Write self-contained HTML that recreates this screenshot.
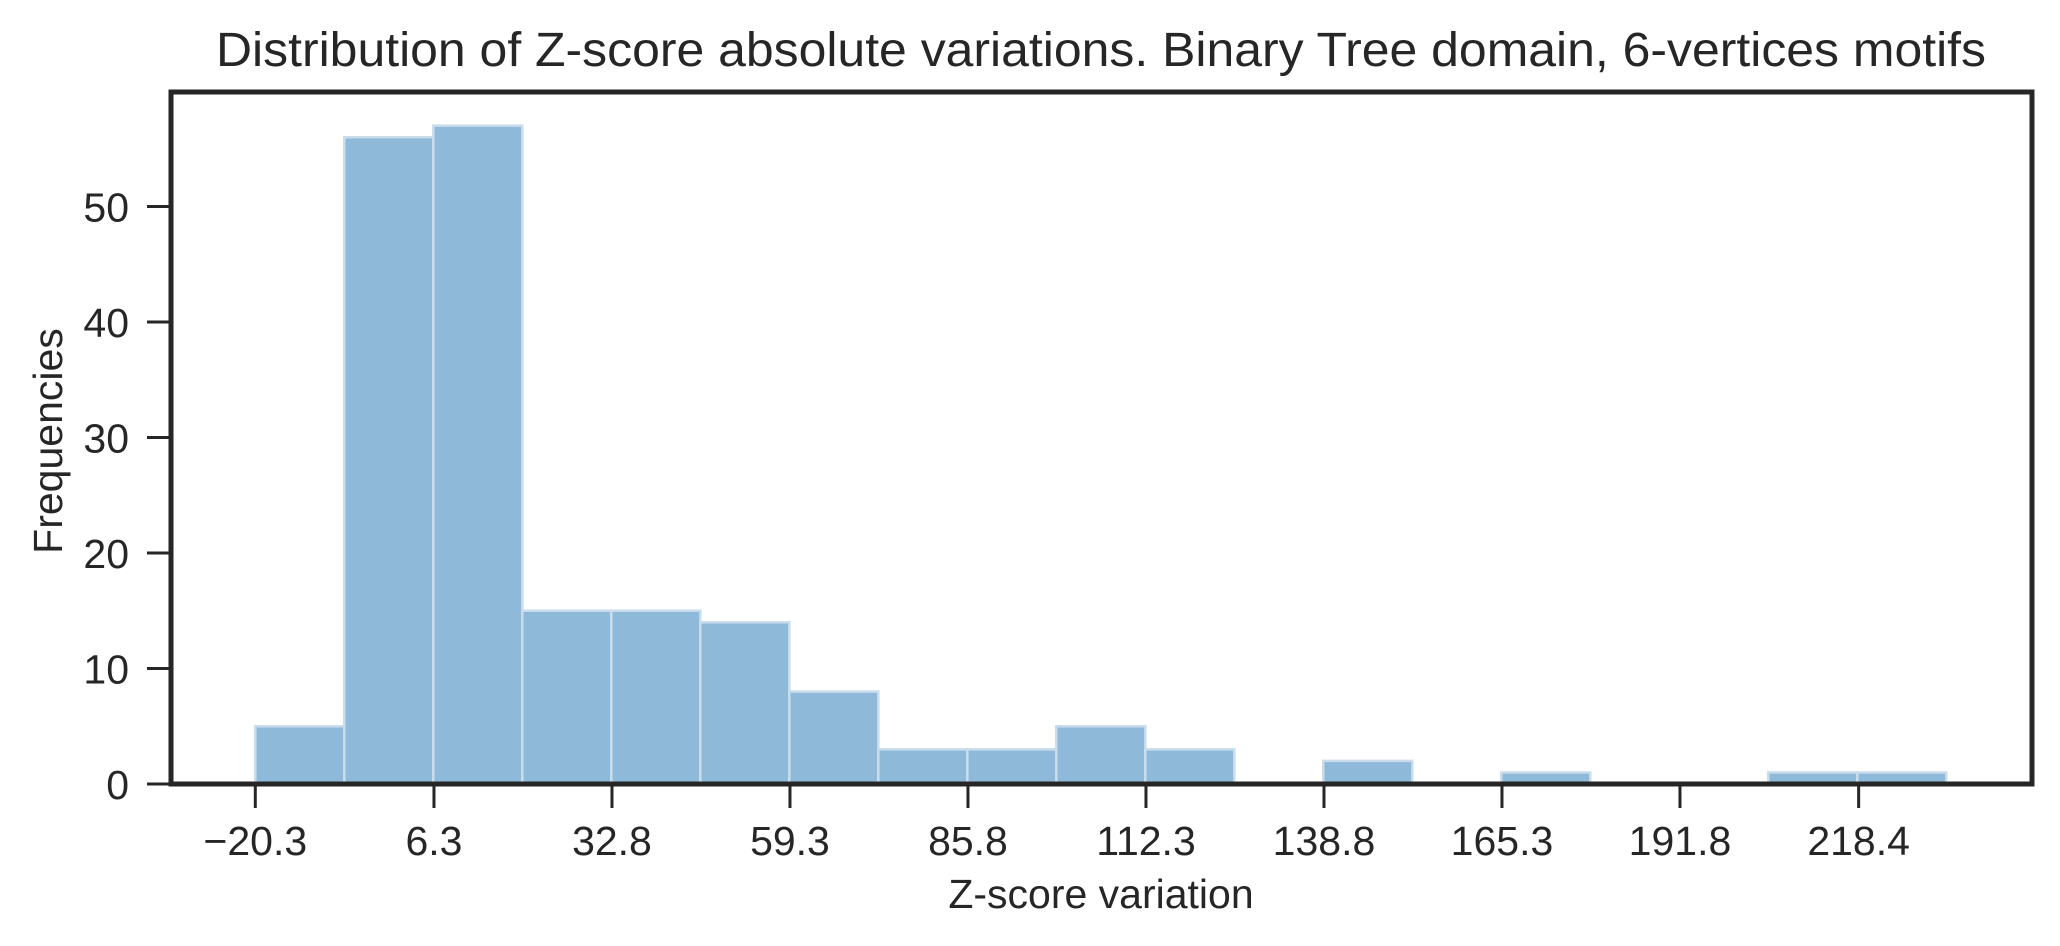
<!DOCTYPE html>
<html><head><meta charset="utf-8"><style>
html,body{margin:0;padding:0;background:#fff;}
svg{display:block;font-family:"Liberation Sans",Arial,sans-serif;fill:#262626;}
</style></head><body>
<svg id="chart" width="2060" height="946" viewBox="0 0 2060 946" xmlns="http://www.w3.org/2000/svg">
<text x="1101" y="66" font-size="48" text-anchor="middle" textLength="1770" lengthAdjust="spacingAndGlyphs">Distribution of Z-score absolute variations. Binary Tree domain, 6-vertices motifs</text>
<g id="bars"></g>
<g id="xticks"></g>
<g id="yticks"></g>
<rect x="171" y="92" width="1861" height="692" fill="none" stroke="#262626" stroke-width="5"/>
<text x="1101" y="908" font-size="41" text-anchor="middle">Z-score variation</text>
<text transform="translate(62,441) rotate(-90)" font-size="41" text-anchor="middle">Frequencies</text>
</svg>
<script>
const binStart = -20.3;
const binWidth = 13.25;
const counts = [5, 56, 57, 15, 15, 14, 8, 3, 3, 5, 3, 0, 2, 0, 1, 0, 0, 1, 1];
const xTickValues = [-20.3, 6.3, 32.8, 59.3, 85.8, 112.3, 138.8, 165.3, 191.8, 218.4];
const xTickLabels = ["\u221220.3", "6.3", "32.8", "59.3", "85.8", "112.3", "138.8", "165.3", "191.8", "218.4"];
const yTickValues = [0, 10, 20, 30, 40, 50];

const NS = "http://www.w3.org/2000/svg";
function xScale(v){ return 255.3 + (v - (-20.3)) * (178 / 26.5); }
function yScale(v){ return 784 - v * 11.55; }

const barsG = document.getElementById('bars');
counts.forEach((c, i) => {
  if (c <= 0) return;
  const x0 = xScale(binStart + i * binWidth), x1 = xScale(binStart + (i + 1) * binWidth);
  const r = document.createElementNS(NS, 'rect');
  
  
  r.setAttribute('x', x0);
  r.setAttribute('y', yScale(c));
  r.setAttribute('width', x1 - x0);
  r.setAttribute('height', yScale(0) - yScale(c));
  r.setAttribute('fill', '#8fb9d9');
  r.setAttribute('stroke', '#c8dcec');
  r.setAttribute('stroke-width', '2.5');
  barsG.appendChild(r);
});

const xg = document.getElementById('xticks');
xTickValues.forEach((v, i) => {
  const x = xScale(v);
  const l = document.createElementNS(NS, 'line');
  
  
  l.setAttribute('x1', x); l.setAttribute('x2', x);
  l.setAttribute('y1', 784); l.setAttribute('y2', 808);
  l.setAttribute('stroke', '#262626'); l.setAttribute('stroke-width', '3');
  xg.appendChild(l);
  const t = document.createElementNS(NS, 'text');
  
  
  t.setAttribute('x', x); t.setAttribute('y', 855);
  t.setAttribute('font-size', '41'); t.setAttribute('text-anchor', 'middle');
  t.textContent = xTickLabels[i];
  xg.appendChild(t);
});

const yg = document.getElementById('yticks');
yTickValues.forEach(v => {
  const y = yScale(v);
  const l = document.createElementNS(NS, 'line');
  
  
  l.setAttribute('x1', 147); l.setAttribute('x2', 171);
  l.setAttribute('y1', y); l.setAttribute('y2', y);
  l.setAttribute('stroke', '#262626'); l.setAttribute('stroke-width', '3');
  yg.appendChild(l);
  const t = document.createElementNS(NS, 'text');
  
  
  t.setAttribute('x', 129); t.setAttribute('y', y + 15);
  t.setAttribute('font-size', '41'); t.setAttribute('text-anchor', 'end');
  t.textContent = String(v);
  yg.appendChild(t);
});
</script>
</body></html>
